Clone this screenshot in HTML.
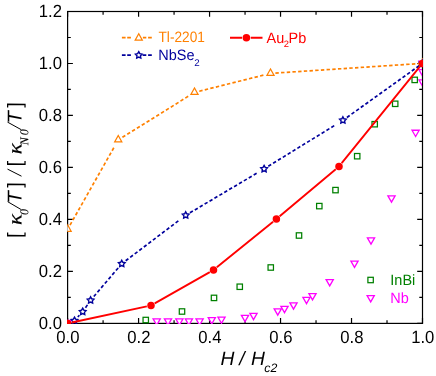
<!DOCTYPE html>
<html><head><meta charset="utf-8"><title>chart</title>
<style>
html,body{margin:0;padding:0;background:#fff;}
body{width:436px;height:376px;overflow:hidden;}
svg{display:block;}
text{font-family:"Liberation Sans",sans-serif;text-rendering:geometricPrecision;}
.ser{font-family:"Liberation Serif",serif;}
</style></head><body>
<svg width="436" height="376" viewBox="0 0 436 376">
<rect x="0" y="0" width="436" height="376" fill="#fff"/>
<defs><clipPath id="cp"><rect x="67.0" y="11" width="356.1" height="313"/></clipPath><clipPath id="cr"><rect x="67.3" y="12" width="100" height="310.5"/></clipPath><clipPath id="cq"><rect x="67.0" y="11" width="354.9" height="313"/></clipPath>
<mask id="mk" maskUnits="userSpaceOnUse" x="0" y="0" width="436" height="376"><rect x="0" y="0" width="436" height="376" fill="#fff"/></mask></defs>
<g mask="url(#mk)">

<g stroke="#000" stroke-width="1.2" fill="none">
<rect x="67.6" y="11.5" width="354.90" height="311.90"/>
<path d="M67.60 323.4v-5.3M67.60 11.5v5.3"/>
<path d="M103.09 323.4v-3.2M103.09 11.5v3.2"/>
<path d="M138.58 323.4v-5.3M138.58 11.5v5.3"/>
<path d="M174.07 323.4v-3.2M174.07 11.5v3.2"/>
<path d="M209.56 323.4v-5.3M209.56 11.5v5.3"/>
<path d="M245.05 323.4v-3.2M245.05 11.5v3.2"/>
<path d="M280.54 323.4v-5.3M280.54 11.5v5.3"/>
<path d="M316.03 323.4v-3.2M316.03 11.5v3.2"/>
<path d="M351.52 323.4v-5.3M351.52 11.5v5.3"/>
<path d="M387.01 323.4v-3.2M387.01 11.5v3.2"/>
<path d="M422.50 323.4v-5.3M422.50 11.5v5.3"/>
<path d="M67.6 323.40h5.3M422.5 323.40h-5.3"/>
<path d="M67.6 297.41h3.2M422.5 297.41h-3.2"/>
<path d="M67.6 271.42h5.3M422.5 271.42h-5.3"/>
<path d="M67.6 245.42h3.2M422.5 245.42h-3.2"/>
<path d="M67.6 219.43h5.3M422.5 219.43h-5.3"/>
<path d="M67.6 193.44h3.2M422.5 193.44h-3.2"/>
<path d="M67.6 167.45h5.3M422.5 167.45h-5.3"/>
<path d="M67.6 141.46h3.2M422.5 141.46h-3.2"/>
<path d="M67.6 115.47h5.3M422.5 115.47h-5.3"/>
<path d="M67.6 89.47h3.2M422.5 89.47h-3.2"/>
<path d="M67.6 63.48h5.3M422.5 63.48h-5.3"/>
<path d="M67.6 37.49h3.2M422.5 37.49h-3.2"/>
<path d="M67.6 11.50h5.3M422.5 11.50h-5.3"/>
</g>
<g clip-path="url(#cq)">
<rect x="64.90" y="320.70" width="5.4" height="5.4" fill="#fff" stroke="#008000" stroke-width="1.25"/>
<rect x="143.05" y="317.30" width="5.4" height="5.4" fill="#fff" stroke="#008000" stroke-width="1.25"/>
<rect x="179.30" y="308.80" width="5.4" height="5.4" fill="#fff" stroke="#008000" stroke-width="1.25"/>
<rect x="211.30" y="295.20" width="5.4" height="5.4" fill="#fff" stroke="#008000" stroke-width="1.25"/>
<rect x="237.05" y="284.05" width="5.4" height="5.4" fill="#fff" stroke="#008000" stroke-width="1.25"/>
<rect x="268.05" y="264.80" width="5.4" height="5.4" fill="#fff" stroke="#008000" stroke-width="1.25"/>
<rect x="296.30" y="232.80" width="5.4" height="5.4" fill="#fff" stroke="#008000" stroke-width="1.25"/>
<rect x="316.60" y="203.40" width="5.4" height="5.4" fill="#fff" stroke="#008000" stroke-width="1.25"/>
<rect x="332.80" y="187.40" width="5.4" height="5.4" fill="#fff" stroke="#008000" stroke-width="1.25"/>
<rect x="354.50" y="153.50" width="5.4" height="5.4" fill="#fff" stroke="#008000" stroke-width="1.25"/>
<rect x="372.00" y="121.50" width="5.4" height="5.4" fill="#fff" stroke="#008000" stroke-width="1.25"/>
<rect x="392.50" y="101.10" width="5.4" height="5.4" fill="#fff" stroke="#008000" stroke-width="1.25"/>
<rect x="412.00" y="77.20" width="5.4" height="5.4" fill="#fff" stroke="#008000" stroke-width="1.25"/>
<path d="M64.00 320.45L71.20 320.45L67.60 326.75Z" fill="#fff" stroke="#ff00ff" stroke-width="1.3" stroke-linejoin="miter"/>
<path d="M418.90 61.25L426.10 61.25L422.50 67.55Z" fill="#fff" stroke="#ff00ff" stroke-width="1.3" stroke-linejoin="miter"/>
<path d="M153.10 318.85L160.30 318.85L156.70 325.15Z" fill="#fff" stroke="#ff00ff" stroke-width="1.3" stroke-linejoin="miter"/>
<path d="M164.40 318.85L171.60 318.85L168.00 325.15Z" fill="#fff" stroke="#ff00ff" stroke-width="1.3" stroke-linejoin="miter"/>
<path d="M175.80 318.85L183.00 318.85L179.40 325.15Z" fill="#fff" stroke="#ff00ff" stroke-width="1.3" stroke-linejoin="miter"/>
<path d="M185.30 318.85L192.50 318.85L188.90 325.15Z" fill="#fff" stroke="#ff00ff" stroke-width="1.3" stroke-linejoin="miter"/>
<path d="M196.00 318.85L203.20 318.85L199.60 325.15Z" fill="#fff" stroke="#ff00ff" stroke-width="1.3" stroke-linejoin="miter"/>
<path d="M208.20 317.55L215.40 317.55L211.80 323.85Z" fill="#fff" stroke="#ff00ff" stroke-width="1.3" stroke-linejoin="miter"/>
<path d="M217.90 317.05L225.10 317.05L221.50 323.35Z" fill="#fff" stroke="#ff00ff" stroke-width="1.3" stroke-linejoin="miter"/>
<path d="M241.40 315.35L248.60 315.35L245.00 321.65Z" fill="#fff" stroke="#ff00ff" stroke-width="1.3" stroke-linejoin="miter"/>
<path d="M249.90 313.35L257.10 313.35L253.50 319.65Z" fill="#fff" stroke="#ff00ff" stroke-width="1.3" stroke-linejoin="miter"/>
<path d="M274.15 308.85L281.35 308.85L277.75 315.15Z" fill="#fff" stroke="#ff00ff" stroke-width="1.3" stroke-linejoin="miter"/>
<path d="M280.90 306.35L288.10 306.35L284.50 312.65Z" fill="#fff" stroke="#ff00ff" stroke-width="1.3" stroke-linejoin="miter"/>
<path d="M289.90 302.85L297.10 302.85L293.50 309.15Z" fill="#fff" stroke="#ff00ff" stroke-width="1.3" stroke-linejoin="miter"/>
<path d="M302.90 297.35L310.10 297.35L306.50 303.65Z" fill="#fff" stroke="#ff00ff" stroke-width="1.3" stroke-linejoin="miter"/>
<path d="M308.90 293.60L316.10 293.60L312.50 299.90Z" fill="#fff" stroke="#ff00ff" stroke-width="1.3" stroke-linejoin="miter"/>
<path d="M326.10 279.55L333.30 279.55L329.70 285.85Z" fill="#fff" stroke="#ff00ff" stroke-width="1.3" stroke-linejoin="miter"/>
<path d="M350.90 261.10L358.10 261.10L354.50 267.40Z" fill="#fff" stroke="#ff00ff" stroke-width="1.3" stroke-linejoin="miter"/>
<path d="M367.40 237.85L374.60 237.85L371.00 244.15Z" fill="#fff" stroke="#ff00ff" stroke-width="1.3" stroke-linejoin="miter"/>
<path d="M387.90 195.85L395.10 195.85L391.50 202.15Z" fill="#fff" stroke="#ff00ff" stroke-width="1.3" stroke-linejoin="miter"/>
<path d="M412.00 130.25L419.20 130.25L415.60 136.55Z" fill="#fff" stroke="#ff00ff" stroke-width="1.3" stroke-linejoin="miter"/>
<path d="M418.90 79.85L426.10 79.85L422.50 86.15Z" fill="#fff" stroke="#ff00ff" stroke-width="1.3" stroke-linejoin="miter"/>
<path d="M418.90 69.65L426.10 69.65L422.50 75.95Z" fill="#fff" stroke="#ff00ff" stroke-width="1.3" stroke-linejoin="miter"/>
</g>
<g clip-path="url(#cp)">
<g stroke="#ff8000" stroke-width="1.7" fill="none" stroke-dasharray="3.4 2.3"><path d="M70.01 225.14L113.80 147.77"/><path d="M122.41 137.31L188.19 96.33"/><path d="M199.25 91.21L263.38 75.18"/><path d="M275.39 73.08L419.31 63.61"/></g>
</g><g clip-path="url(#cr)"><path d="M64.00 231.40L71.20 231.40L67.60 224.80Z" fill="#fff" stroke="#ff8000" stroke-width="1.2" stroke-linejoin="miter"/></g><g clip-path="url(#cp)">
<path d="M114.65 141.95L121.85 141.95L118.25 135.45Z" fill="#fff" stroke="#ff8000" stroke-width="1.2" stroke-linejoin="miter"/>
<path d="M190.90 94.45L198.10 94.45L194.50 87.95Z" fill="#fff" stroke="#ff8000" stroke-width="1.2" stroke-linejoin="miter"/>
<path d="M266.90 75.45L274.10 75.45L270.50 68.95Z" fill="#fff" stroke="#ff8000" stroke-width="1.2" stroke-linejoin="miter"/>
<path d="M418.90 65.45L426.10 65.45L422.50 58.95Z" fill="#fff" stroke="#ff8000" stroke-width="1.2" stroke-linejoin="miter"/>
<g stroke="#00009c" stroke-width="1.7" fill="none" stroke-dasharray="3.4 2.3"><path d="M77.82 317.00L79.38 315.30"/><path d="M85.49 307.67L87.43 304.88"/><path d="M93.78 296.57L118.17 267.95"/><path d="M125.66 260.79L178.34 220.87"/><path d="M189.92 212.80L256.61 173.33"/><path d="M268.27 166.33L334.23 125.64"/><path d="M346.89 117.45L419.90 65.26"/></g>
<polygon points="74.50,317.10 75.59,319.10 77.83,319.52 76.26,321.17 76.56,323.43 74.50,322.45 72.44,323.43 72.74,321.17 71.17,319.52 73.41,319.10" fill="#fff" stroke="#00009c" stroke-width="1.4" stroke-linejoin="miter"/>
<polygon points="82.70,308.20 83.79,310.20 86.03,310.62 84.46,312.27 84.76,314.53 82.70,313.55 80.64,314.53 80.94,312.27 79.37,310.62 81.61,310.20" fill="#fff" stroke="#00009c" stroke-width="1.4" stroke-linejoin="miter"/>
<polygon points="90.60,296.80 91.69,298.80 93.93,299.22 92.36,300.87 92.66,303.13 90.60,302.15 88.54,303.13 88.84,300.87 87.27,299.22 89.51,298.80" fill="#fff" stroke="#00009c" stroke-width="1.4" stroke-linejoin="miter"/>
<polygon points="121.75,260.25 122.84,262.25 125.08,262.67 123.51,264.32 123.81,266.58 121.75,265.60 119.69,266.58 119.99,264.32 118.42,262.67 120.66,262.25" fill="#fff" stroke="#00009c" stroke-width="1.4" stroke-linejoin="miter"/>
<polygon points="185.70,211.80 186.79,213.80 189.03,214.22 187.46,215.87 187.76,218.13 185.70,217.15 183.64,218.13 183.94,215.87 182.37,214.22 184.61,213.80" fill="#fff" stroke="#00009c" stroke-width="1.4" stroke-linejoin="miter"/>
<polygon points="264.10,165.40 265.19,167.40 267.43,167.82 265.86,169.47 266.16,171.73 264.10,170.75 262.04,171.73 262.34,169.47 260.77,167.82 263.01,167.40" fill="#fff" stroke="#00009c" stroke-width="1.4" stroke-linejoin="miter"/>
<polygon points="342.90,116.80 343.99,118.80 346.23,119.22 344.66,120.87 344.96,123.13 342.90,122.15 340.84,123.13 341.14,120.87 339.57,119.22 341.81,118.80" fill="#fff" stroke="#00009c" stroke-width="1.4" stroke-linejoin="miter"/>
<polygon points="422.50,59.90 423.59,61.90 425.83,62.32 424.26,63.97 424.56,66.23 422.50,65.25 420.44,66.23 420.74,63.97 419.17,62.32 421.41,61.90" fill="#fff" stroke="#00009c" stroke-width="1.4" stroke-linejoin="miter"/>
<path d="M71.76 322.51L146.84 306.39M154.70 303.40L209.80 272.10M216.80 267.32L273.10 221.68M279.66 216.27L335.74 169.23M341.67 163.20L419.83 66.70" stroke="#ff0000" stroke-width="1.9" fill="none"/>
<circle cx="67.6" cy="323.4" r="3.75" fill="#ff0000"/>
<circle cx="151" cy="305.5" r="3.75" fill="#ff0000"/>
<circle cx="213.5" cy="270" r="3.75" fill="#ff0000"/>
<circle cx="276.4" cy="219" r="3.75" fill="#ff0000"/>
<circle cx="339" cy="166.5" r="3.75" fill="#ff0000"/>
<circle cx="422.5" cy="63.4" r="3.75" fill="#ff0000"/>
</g>
<g font-size="17.7" fill="#000">
<text x="67.90" y="342.6" text-anchor="middle" textLength="23.2" lengthAdjust="spacingAndGlyphs">0.0</text>
<text x="138.88" y="342.6" text-anchor="middle" textLength="23.2" lengthAdjust="spacingAndGlyphs">0.2</text>
<text x="209.86" y="342.6" text-anchor="middle" textLength="23.2" lengthAdjust="spacingAndGlyphs">0.4</text>
<text x="280.84" y="342.6" text-anchor="middle" textLength="23.2" lengthAdjust="spacingAndGlyphs">0.6</text>
<text x="351.82" y="342.6" text-anchor="middle" textLength="23.2" lengthAdjust="spacingAndGlyphs">0.8</text>
<text x="422.80" y="342.6" text-anchor="middle" textLength="23.2" lengthAdjust="spacingAndGlyphs">1.0</text>
<text x="62.0" y="328.80" text-anchor="end" textLength="23.2" lengthAdjust="spacingAndGlyphs">0.0</text>
<text x="62.0" y="276.82" text-anchor="end" textLength="23.2" lengthAdjust="spacingAndGlyphs">0.2</text>
<text x="62.0" y="224.83" text-anchor="end" textLength="23.2" lengthAdjust="spacingAndGlyphs">0.4</text>
<text x="62.0" y="172.85" text-anchor="end" textLength="23.2" lengthAdjust="spacingAndGlyphs">0.6</text>
<text x="62.0" y="120.87" text-anchor="end" textLength="23.2" lengthAdjust="spacingAndGlyphs">0.8</text>
<text x="62.0" y="68.88" text-anchor="end" textLength="23.2" lengthAdjust="spacingAndGlyphs">1.0</text>
<text x="62.0" y="16.90" text-anchor="end" textLength="23.2" lengthAdjust="spacingAndGlyphs">1.2</text>
</g>
<g font-style="italic" fill="#000" font-size="19.3"><text x="220.6" y="364.7">H</text><text x="239.3" y="364.7">/</text><text x="251.1" y="364.7">H</text><text x="264.3" y="372" font-size="12.3">c2</text></g>
<g fill="#000">
<text transform="translate(21.5,237.9) rotate(-89.9)" font-size="20" >[</text>
<text transform="translate(21.5,187.8) rotate(-89.9)" font-size="20" >]</text>
<text transform="translate(21.5,166.5) rotate(-89.9)" font-size="20" >[</text>
<text transform="translate(21.5,107.8) rotate(-89.9)" font-size="20" >]</text>
<text transform="translate(21.5,203.4) rotate(-89.9)" font-size="20" font-style="italic">T</text>
<text transform="translate(21.5,123.4) rotate(-89.9)" font-size="20" font-style="italic">T</text>
<text transform="translate(21.6,225.0) rotate(-89.9) scale(1.14,1)" font-size="20.3" class="ser" font-style="italic" stroke="#000" stroke-width="0.15">κ</text>
<text transform="translate(21.6,154.3) rotate(-89.9) scale(1.14,1)" font-size="20.3" class="ser" font-style="italic" stroke="#000" stroke-width="0.15">κ</text>
<text transform="translate(28.2,215.0) rotate(-89.9)" font-size="12" class="ser" font-style="italic" stroke="#000" stroke-width="0.1">0</text>
<text transform="translate(28.2,145.2) rotate(-89.9)" font-size="12" class="ser" font-style="italic" stroke="#000" stroke-width="0.1">N</text>
<text transform="translate(28.2,135.2) rotate(-89.9)" font-size="12" class="ser" font-style="italic" stroke="#000" stroke-width="0.1">0</text>
</g>
<path d="M20.9 209.4L7.7 201.7M21.5 176.2L7.5 169.1M21.1 129.6L7.5 122.1" stroke="#000" stroke-width="1.0" fill="none"/>
<path d="M121.9 37.6h3.7M127.2 37.6h3.7M142.9 37.6h3.4M148.1 37.6h3.7" stroke="#ff8000" stroke-width="1.8" fill="none"/>
<path d="M135.15 40.15L142.35 40.15L138.75 33.65Z" fill="#fff" stroke="#ff8000" stroke-width="1.2" stroke-linejoin="miter"/>
<path d="M121.9 55.1h3.7M127.2 55.1h3.7M142.6 55.1h3.7M148.1 55.1h3.7" stroke="#00009c" stroke-width="1.8" fill="none"/>
<polygon points="138.75,51.70 139.84,53.70 142.08,54.12 140.51,55.77 140.81,58.03 138.75,57.05 136.69,58.03 136.99,55.77 135.42,54.12 137.66,53.70" fill="#fff" stroke="#00009c" stroke-width="1.4" stroke-linejoin="miter"/>
<path d="M230 37.7H242.1M250.7 37.7H262.5" stroke="#ff0000" stroke-width="1.9" fill="none"/>
<circle cx="246.4" cy="37.7" r="3.75" fill="#ff0000"/>
<g font-size="15.0">
<text x="158.5" y="42.4" fill="#ff8000" textLength="46.4" lengthAdjust="spacingAndGlyphs">Tl-2201</text>
<text x="158.3" y="59.6" fill="#00009c" textLength="36.26" lengthAdjust="spacingAndGlyphs">NbSe</text><text x="194.2" y="66" font-size="9.8" fill="#00009c">2</text>
<text x="266.5" y="42.6" fill="#ff0000" textLength="17.73" lengthAdjust="spacingAndGlyphs">Au</text><text x="283.7" y="47.3" font-size="9.4" fill="#ff0000">2</text><text x="288.6" y="42.6" fill="#ff0000" textLength="17.73" lengthAdjust="spacingAndGlyphs">Pb</text>
<text x="390.3" y="284.8" fill="#008000" textLength="24.98" lengthAdjust="spacingAndGlyphs">InBi</text>
<text x="390.3" y="302.5" fill="#ff00ff" textLength="18.53" lengthAdjust="spacingAndGlyphs">Nb</text>
</g>
<rect x="367.90" y="277.30" width="5.4" height="5.4" fill="#fff" stroke="#008000" stroke-width="1.25"/>
<path d="M367.10 295.55L374.30 295.55L370.70 301.85Z" fill="#fff" stroke="#ff00ff" stroke-width="1.3" stroke-linejoin="miter"/>
</g></svg></body></html>
